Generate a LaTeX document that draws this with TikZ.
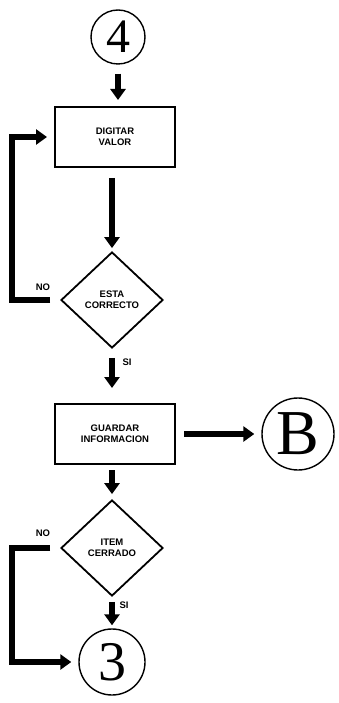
\documentclass[tikz,border=0pt]{standalone}
\usepackage{fontspec}
\setmainfont{Liberation Serif}
\newfontfamily\rotulo{Liberation Sans}
\usetikzlibrary{shapes.geometric,arrows.meta}

\begin{document}
\begin{tikzpicture}[x=1pt, y=-1pt,
  caja/.style = {shape=rectangle, draw, line width=2pt,
    minimum width=120pt, minimum height=60pt,
    align=center, font=\rotulo\bfseries\fontsize{9.5}{11}\selectfont},
  decision/.style = {shape=diamond, draw, line width=1.8pt,
    minimum width=102pt, minimum height=96pt, inner sep=0pt,
    align=center, font=\rotulo\bfseries\fontsize{9.5}{11}\selectfont},
  conector/.style = {shape=circle, draw, line width=1.4pt, inner sep=0pt},
  flecha/.style = {line width=6pt,
    -{Triangle[width=15pt,length=11pt]}},
  etiqueta/.style = {font=\rotulo\bfseries\fontsize{9.5}{10}\selectfont}
  ]
  \useasboundingbox (0,0) rectangle (338,703);

  % conectores de pagina
  \node[conector, minimum size=54pt, font=\fontsize{48}{48}\selectfont] (c4) at (118,37) {4};
  \node[conector, minimum size=72pt, font=\fontsize{64}{64}\selectfont] (cB) at (298,434) {B};
  \node[conector, minimum size=66pt, font=\fontsize{56}{56}\selectfont] (c3) at (112,662) {3};

  % cajas y decisiones
  \node[caja] (digitar) at (115,137) {DIGITAR\\VALOR};
  \node[decision] (correcto) at (112,300) {ESTA\\CORRECTO};
  \node[caja] (guardar) at (115,434) {GUARDAR\\INFORMACION};
  \node[decision] (cerrado) at (112,548) {ITEM\\CERRADO};

  \coordinate (izq) at (12,0);

  % flujo principal
  \draw[flecha, shorten <=9pt, shorten >=6pt] (c4.south) -- (c4.south |- digitar.north);
  \draw[flecha, shorten <=10pt, shorten >=3pt] (digitar.south -| correcto.north) -- (correcto.north);
  \draw[flecha, shorten <=9pt, shorten >=15pt] (correcto.south) -- (correcto.south |- guardar.north);
  \draw[flecha, shorten <=5pt, shorten >=5pt] (guardar.south -| cerrado.north) -- (cerrado.north);
  \draw[flecha, shorten <=8pt, shorten >=7pt] (guardar.east) -- (cB.west);
  \draw[flecha, shorten <=5pt, shorten >=3pt] (cerrado.south) -- (c3.north);

  % retornos por NO
  \draw[flecha] ([xshift=-10pt]correcto.west) -- (izq |- correcto.west)
    -- (izq |- digitar.west) -- ([xshift=-7pt]digitar.west);
  \draw[flecha] ([xshift=-10pt]cerrado.west) -- (izq |- cerrado.west)
    -- (izq |- c3.west) -- ([xshift=-7pt]c3.west);

  % rotulos
  \node[etiqueta] (no1) at (43,287) {NO};
  \node[etiqueta] (si1) at (127,362) {SI};
  \node[etiqueta] (no2) at (43,533) {NO};
  \node[etiqueta] (si2) at (124,605) {SI};
\end{tikzpicture}
\end{document}
